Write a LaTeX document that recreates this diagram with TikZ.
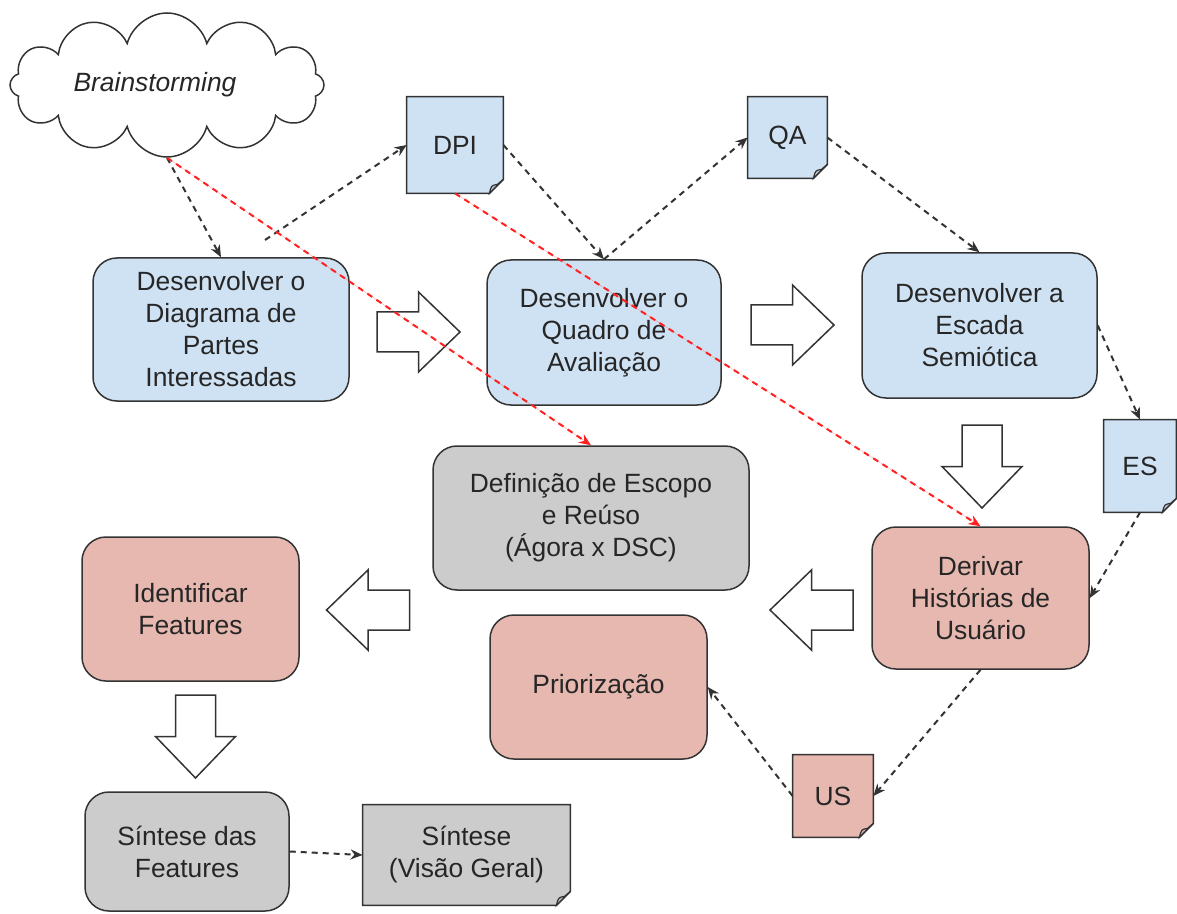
\documentclass[tikz,border=0pt]{standalone}
\usepackage{fontspec}
\setmainfont{Liberation Sans}
\usetikzlibrary{shapes.symbols,arrows.meta,backgrounds}
\definecolor{bluef}{HTML}{CFE2F3}
\definecolor{pinkf}{HTML}{E6B8AF}
\definecolor{grayf}{HTML}{CCCCCC}
\definecolor{linec}{HTML}{333333}
\definecolor{textc}{HTML}{262626}
\definecolor{redc}{HTML}{FF2020}
\newcommand{\docshape}[2]{%
  \filldraw[draw=linec, line width=0.75pt, fill=#2]
    (#1.north west) -- (#1.north east) -- ([yshift=7pt]#1.south east)
    -- ([xshift=-7pt]#1.south east) -- (#1.south west) -- cycle;
  \filldraw[draw=linec, line width=0.6pt, fill=#2!70!gray]
    ([xshift=-7pt]#1.south east) .. controls ([xshift=-6pt,yshift=4pt]#1.south east) ..
    ([xshift=-3pt,yshift=4.5pt]#1.south east) -- ([yshift=7pt]#1.south east) -- cycle;}
\begin{document}
\begin{tikzpicture}[x=0.5pt,y=-0.5pt,
  txt/.style={text=textc, font=\fontsize{13.2}{16}\selectfont, align=center},
  box/.style={txt, draw=linec, line width=0.75pt, rounded corners=12pt, inner sep=0pt},
  doc/.style={txt, inner sep=0pt},
  dcon/.style={draw=linec, line width=1pt, dash pattern=on 3pt off 2.5pt,
    -{Stealth[length=6pt,width=5pt]}},
  rcon/.style={dcon, draw=redc, fill=redc},
  barrow/.style={draw=linec, line width=0.75pt, fill=white},
  blockarrow/.pic={\draw[barrow] (-41.5,-20) -- (0,-20) -- (0,-40) -- (41.5,0)
    -- (0,40) -- (0,20) -- (-41.5,20) -- cycle;}]
\useasboundingbox (0,0) rectangle (1177,914);

% cloud
\node[cloud, draw=linec, line width=0.75pt, fill=white, cloud puffs=12,
  cloud ignores aspect, minimum width=157pt, minimum height=72pt, inner sep=0pt,
  txt, font=\fontsize{13.2}{16}\selectfont\itshape] (cloud) at (167,85)
  {Brainstorming\hspace*{12pt}};

% process boxes
\node[box, fill=bluef, minimum width=128pt, minimum height=71.5pt] (b1) at (221,329.5)
  {Desenvolver o\\Diagrama de\\Partes\\Interessadas};
\node[box, fill=bluef, minimum width=117pt, minimum height=72.5pt] (b2) at (604,332.5)
  {Desenvolver o\\Quadro de\\Avaliação};
\node[box, fill=bluef, minimum width=117.5pt, minimum height=72.5pt] (b3) at (979.5,325.5)
  {Desenvolver a\\Escada\\Semiótica};
\node[box, fill=grayf, minimum width=158pt, minimum height=72pt] (b4) at (591,518)
  {Definição de Escopo\\e Reúso\\(Ágora x DSC)};
\node[box, fill=pinkf, minimum width=108.5pt, minimum height=72pt] (b5) at (190.5,609)
  {Identificar\\Features};
\node[box, fill=pinkf, minimum width=108.5pt, minimum height=71pt] (b6) at (980.5,598)
  {Derivar\\Histórias de\\Usuário};
\node[box, fill=pinkf, minimum width=108.5pt, minimum height=72pt] (b7) at (598.5,687)
  {Priorização};
\node[box, fill=grayf, minimum width=102pt, minimum height=59.5pt] (b8) at (187,851.5)
  {Síntese das\\Features};

% documents
\node[doc, minimum width=48pt, minimum height=48pt] (dpi) at (455,145) {DPI};
\node[doc, minimum width=39.5pt, minimum height=40.5pt] (qa) at (787.5,137.5) {QA};
\node[doc, minimum width=36pt, minimum height=46pt] (es) at (1140,466) {ES};
\node[doc, minimum width=40pt, minimum height=41pt] (us) at (833,796) {US};
\node[doc, minimum width=103.5pt, minimum height=50pt] (sv) at (466.5,855)
  {Síntese\\(Visão Geral)};
\begin{scope}[on background layer]
  \docshape{dpi}{bluef}
  \docshape{qa}{bluef}
  \docshape{es}{bluef}
  \docshape{us}{pinkf}
  \docshape{sv}{grayf}
\end{scope}

% block arrows
\pic at (418.5,332) {blockarrow};
\pic at (792.5,325) {blockarrow};
\pic[rotate=-90] at (982,466.5) {blockarrow};
\pic[rotate=180] at (811.5,610) {blockarrow};
\pic[rotate=180] at (368,610) {blockarrow};
\pic[rotate=-90] at (195.5,736.5) {blockarrow};

% connectors
\coordinate (c1) at (265,240);
\draw[dcon] (cloud.south) -- (b1.north);
\draw[dcon] (c1) -- (dpi.west);
\draw[dcon] (dpi.east) -- (b2.north);
\draw[dcon] (b2.north) -- (qa.west);
\draw[dcon] (qa.east) -- (b3.north);
\draw[dcon] (b3.east) -- (es.north);
\draw[dcon] (es.south) -- (b6.east);
\draw[dcon] (b6.south) -- (us.east);
\draw[dcon] (us.west) -- (b7.east);
\draw[dcon] (b8.east) -- (sv.west);
\draw[rcon] (cloud.south) -- (b4.north);
\draw[rcon] (dpi.south) -- (b6.north);
\end{tikzpicture}
\end{document}
